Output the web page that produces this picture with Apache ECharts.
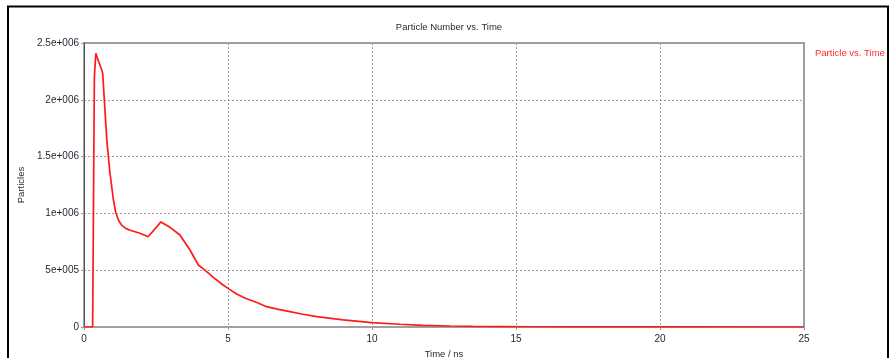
<!DOCTYPE html>
<html>
<head>
<meta charset="utf-8">
<script src="https://cdn.jsdelivr.net/npm/echarts@6/dist/echarts.min.js"></script>
<style>
  html, body { margin: 0; padding: 0; background: #fff; }
  #chart { width: 891px; height: 358px; }
</style>
</head>
<body>
<div id="chart"></div>
<script>
// Time axis samples (ns)
const timeNs = [
  0, 0.30, 0.33, 0.36, 0.41, 0.46, 0.62, 0.65, 0.79, 0.90, 1.02, 1.10, 1.20, 1.31, 1.45,
  1.60, 1.94, 2.23, 2.67, 3.00, 3.33, 3.68, 3.97, 4.20, 4.50, 4.83, 5.00, 5.30, 5.60, 6.00, 6.34, 6.75, 7.15,
  7.60, 8.08, 9.00, 10.0, 10.97, 11.78, 12.71, 13.5, 14.5, 15.6, 17.0, 20.0, 25.0
];
// Particle counts at each time sample
const particles = [
  0, 0, 1.10e6, 2.20e6, 2.41e6, 2.37e6, 2.26e6, 2.23e6, 1.65e6, 1.36e6, 1.12e6, 1.01e6, 0.94e6, 0.895e6, 0.868e6,
  0.852e6, 0.825e6, 0.795e6, 0.925e6, 0.875e6, 0.81e6, 0.678e6, 0.546e6, 0.50e6, 0.435e6, 0.37e6, 0.34e6, 0.29e6, 0.253e6, 0.215e6, 0.179e6, 0.155e6, 0.135e6,
  0.112e6, 0.091e6, 0.062e6, 0.038e6, 0.024e6, 0.015e6, 0.009e6, 0.006e6, 0.004e6, 0.002e6, 0.001e6, 0.0005e6, 0.0002e6
];
// Y tick values and their printed labels
const yTickValues = [0, 5e5, 1e6, 1.5e6, 2e6, 2.5e6];
const yTickLabels = ['0', '5e+005', '1e+006', '1.5e+006', '2e+006', '2.5e+006'];
const xTickLabels = ['0', '5', '10', '15', '20', '25'];

const seriesName = 'Particle vs. Time';
const font = 'Liberation Sans, Arial, sans-serif';
const textColor = '#1e2430';

const chart = echarts.init(document.getElementById('chart'), null, { renderer: 'canvas' });
chart.setOption({
  backgroundColor: '#ffffff',
  animation: false,
  title: {
    text: 'Particle Number vs. Time',
    left: 444, textAlign: 'center', top: 17,
    textStyle: { fontFamily: font, fontSize: 9.5, fontWeight: 'normal', color: textColor }
  },
  legend: {
    data: [seriesName],
    left: 805, top: 41,
    icon: 'none', itemWidth: 0, itemGap: 0,
    textStyle: { fontFamily: font, fontSize: 9.5, color: '#ff2a2a' }
  },
  grid: {
    left: 84, top: 43, right: 87, bottom: 31,
    outerBoundsMode: 'none', containLabel: false,
    show: true, borderColor: '#a0a0a0', borderWidth: 2, backgroundColor: 'transparent'
  },
  xAxis: {
    type: 'value', min: 0, max: 25, interval: 5,
    name: 'Time / ns', nameLocation: 'middle', nameGap: 20,
    nameTextStyle: { fontFamily: font, fontSize: 9.5, color: textColor },
    axisLine: { show: true, lineStyle: { color: '#a0a0a0', width: 2 } },
    axisTick: { show: true, length: 3, lineStyle: { color: '#a0a0a0' } },
    axisLabel: {
      margin: 7, fontFamily: font, fontSize: 10, color: textColor,
      formatter: v => xTickLabels[Math.round(v / 5)]
    },
    splitLine: { show: true, lineStyle: { type: [2, 2], color: '#9a9a9a', width: 1 } }
  },
  yAxis: {
    type: 'value', min: 0, max: 2.5e6, interval: 5e5,
    name: 'Particles', nameLocation: 'middle', nameGap: 56, nameRotate: 90,
    nameTextStyle: { fontFamily: font, fontSize: 9.5, color: textColor },
    axisLine: { show: true, lineStyle: { color: '#555555', width: 1 } },
    axisTick: { show: true, length: 3, lineStyle: { color: '#9a9a9a' } },
    axisLabel: {
      margin: 5, fontFamily: font, fontSize: 10, color: textColor,
      formatter: v => yTickLabels[yTickValues.indexOf(v)]
    },
    splitLine: { show: true, lineStyle: { type: [2, 2], color: '#9a9a9a', width: 1 } }
  },
  series: [{
    name: seriesName,
    type: 'line',
    data: timeNs.map((t, i) => [t, particles[i]]),
    showSymbol: false,
    smooth: false,
    lineStyle: { color: '#ff1a1a', width: 1.7 },
    itemStyle: { color: '#ff1a1a' },
    z: 5
  }],
  graphic: [{
    type: 'rect', silent: true,
    shape: { x: 8, y: 6.5, width: 880, height: 360 },
    style: { fill: 'none', stroke: '#000000', lineWidth: 2 }
  }]
});
</script>
</body>
</html>
